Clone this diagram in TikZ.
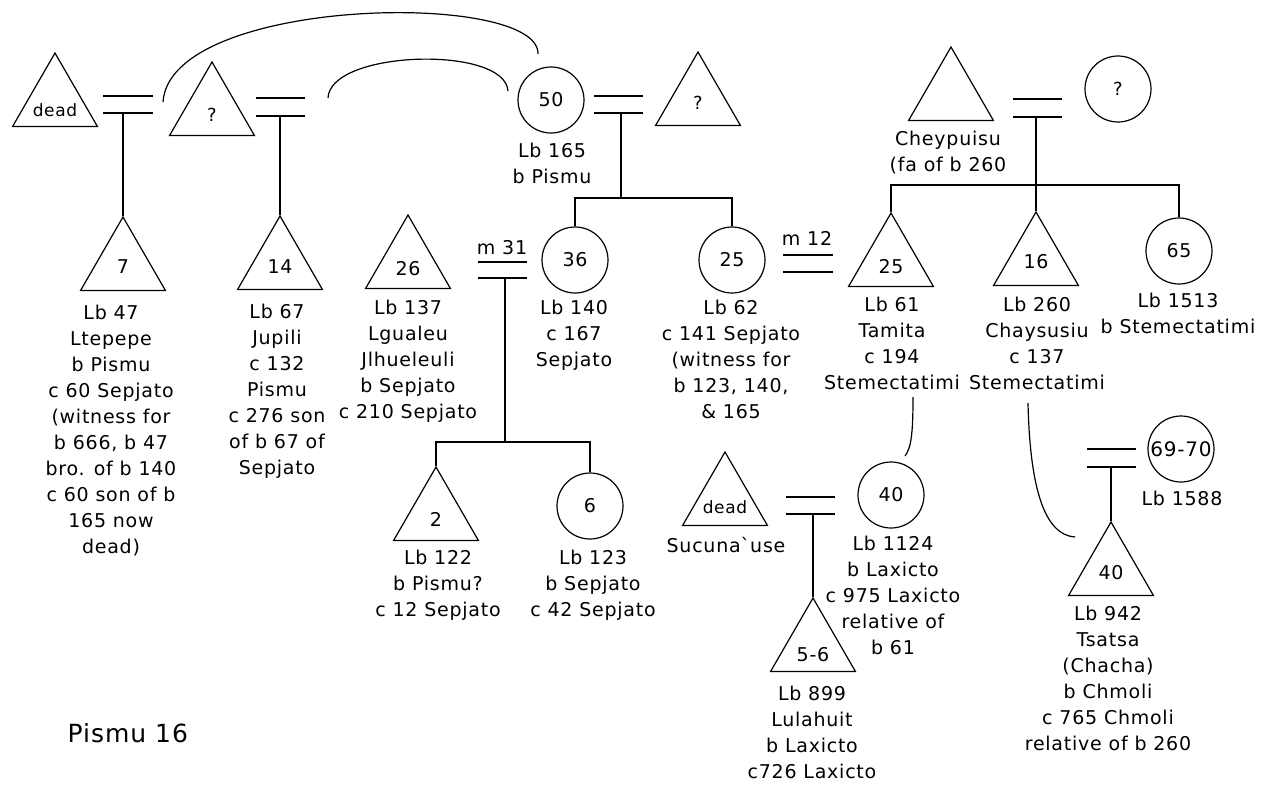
\documentclass[tikz,border=0pt]{standalone}
\usepackage{fontspec}
\setmainfont[LetterSpace=4]{DejaVu Sans}
\usetikzlibrary{shapes.geometric}
\begin{document}
\begin{tikzpicture}[x=1pt,y=-1pt,line width=1.2pt,
  tri/.style={draw, regular polygon, regular polygon sides=3, minimum size=98pt, inner sep=0pt},
  cir/.style={draw, circle, minimum size=66pt, inner sep=0pt},
  numf/.style={font=\fontsize{19}{22}\selectfont},
  smallf/.style={font=\fontsize{17}{20}\selectfont},
  qf/.style={font=\fontsize{18}{20}\selectfont},
  lbl/.style={align=center, inner sep=0pt, anchor=north, font=\fontsize{19}{26}\selectfont},
  mlabel/.style={inner sep=0pt, font=\fontsize{19}{22}\selectfont}]
\fill[white] (0,0) rectangle (1262,785);
\useasboundingbox (0,0) rectangle (1262,785);

% triangles (males)
\node[tri, label={[smallf,yshift=-8pt]center:dead}] (td1) at (55,102) {};
\node[tri, label={[qf,yshift=-4pt]center:?}] (tq1) at (212,111) {};
\node[tri, label={[numf,yshift=-1pt]center:7}] (t7) at (123,266) {};
\node[tri, label={[numf,yshift=-2pt]center:14}] (t14) at (280,265) {};
\node[tri, label={[numf,yshift=-5pt]center:26}] (t26) at (408,264) {};
\node[tri, label={[qf,yshift=-2pt]center:?}] (tq2) at (698,101) {};
\node[tri] (tchey) at (951,96) {};
\node[tri, label={[numf,yshift=-5pt]center:25}] (t25) at (891,262) {};
\node[tri, label={[numf,yshift=-1pt]center:16}] (t16) at (1036,261) {};
\node[tri, label={[numf,yshift=-3pt]center:2}] (t2) at (436,516) {};
\node[tri, label={[smallf,yshift=-6pt]center:dead}] (td2) at (725,501) {};
\node[tri, label={[numf,yshift=-8pt]center:5-6}] (t56) at (813,647) {};
\node[tri, label={[numf,yshift=-2pt]center:40}] (t40) at (1111,571) {};

% circles (females)
\node[cir, numf] (c50) at (551,100) {50};
\node[cir, numf] (c36) at (575,260) {36};
\node[cir, numf] (c25) at (732,260) {25};
\node[cir, qf] (cq) at (1118,89) {?};
\node[cir, numf] (c65) at (1179,251) {65};
\node[cir, numf] (c6) at (590,506) {6};
\node[cir, numf] (c40) at (891,495) {40};
\node[cir, font=\fontsize{20}{22}\selectfont] (c6970) at (1181,449) {69-70};

% text labels
\node[lbl] (l47) at (111,304.5) {Lb 47\\Ltepepe\\b Pismu\\c 60 Sepjato\\(witness for\\b 666, b 47\\bro. of b 140\\c 60 son of b\\165 now\\dead)};
\node[lbl] (l67) at (277,303.5) {Lb 67\\Jupili\\c 132\\Pismu\\c 276 son\\of b 67 of\\Sepjato};
\node[lbl] (l137) at (408,299.5) {Lb 137\\Lgualeu\\Jlhueleuli\\b Sepjato\\c 210 Sepjato};
\node[lbl] (l165) at (552,142.5) {Lb 165\\b Pismu};
\node[lbl] (l140) at (574,299.5) {Lb 140\\c 167\\Sepjato};
\node[lbl] (l62) at (731,299.5) {Lb 62\\c 141 Sepjato\\(witness for\\b 123, 140,\\\& 165};
\node[lbl] (lchey) at (948,130.5) {Cheypuisu\\(fa of b 260};
\node[lbl] (l61) at (892,296.5) {Lb 61\\Tamita\\c 194\\Stemectatimi};
\node[lbl] (l260) at (1037,296.5) {Lb 260\\Chaysusiu\\c 137\\Stemectatimi};
\node[lbl] (l1513) at (1178,292.5) {Lb 1513\\b Stemectatimi};
\node[lbl] (l122) at (438,549.5) {Lb 122\\b Pismu?\\c 12 Sepjato};
\node[lbl] (l123) at (593,549.5) {Lb 123\\b Sepjato\\c 42 Sepjato};
\node[lbl] (lsuc) at (726,536.5) {Sucuna\textasciigrave use};
\node[lbl] (l1124) at (893,535.5) {Lb 1124\\b Laxicto\\c 975 Laxicto\\relative of\\b 61};
\node[lbl] (l899) at (812,685.5) {Lb 899\\Lulahuit\\b Laxicto\\c726 Laxicto};
\node[lbl] (l1588) at (1182,490.5) {Lb 1588};
\node[lbl] (l942) at (1108,605.5) {Lb 942\\Tsatsa\\(Chacha)\\b Chmoli\\c 765 Chmoli\\relative of b 260};
\node[mlabel] (lm31) at (502,248) {m 31};
\node[mlabel] (lm12) at (807,238) {m 12};
\node[anchor=west, inner sep=0pt, font=\fontsize{25}{30}\selectfont] (title) at (67,733) {Pismu 16};

% marriage bars
\draw (103,96) -- (153,96) (103,113) -- (153,113);
\draw (256,98) -- (305,98) (256,116) -- (305,116);
\draw (594,96) -- (643,96) (594,113) -- (643,113);
\draw (478,262) -- (527,262) (478,278) -- (527,278);
\draw (783,255) -- (833,255) (783,272) -- (833,272);
\draw (1013,99) -- (1062,99) (1013,117) -- (1062,117);
\draw (786,497) -- (835,497) (786,514) -- (835,514);
\draw (1087,449) -- (1136,449) (1087,467) -- (1136,467);

% descent points
\coordinate (m1) at (123,113);
\coordinate (m2) at (280,116);
\coordinate (m3) at (621,113);
\coordinate (s3) at (621,198);
\coordinate (m4) at (505,278);
\coordinate (s4) at (505,442);
\coordinate (m6) at (1036,117);
\coordinate (s6) at (1036,185);
\coordinate (m7) at (813,514);
\coordinate (m8) at (1111,467);

\draw (m1) -- (t7.corner 1);
\draw (m2) -- (t14.corner 1);
\draw (m3) -- (s3);
\draw (c36.north) |- (s3) -| (c25.north);
\draw (m4) -- (s4);
\draw (t2.corner 1) |- (s4) -| (c6.north);
\draw (m6) -- (t16.corner 1);
\draw (t25.corner 1) |- (s6) -| (c65.north);
\draw (m7) -- (t56.corner 1);
\draw (m8) -- (t40.corner 1);

% relation arcs
\coordinate (a1s) at (163,102);
\coordinate (a1e) at (538,54);
\coordinate (a2s) at (328,98);
\coordinate (a2e) at (508,91);
\coordinate (a3s) at (913,397);
\coordinate (a3e) at (905,456);
\coordinate (a4s) at (1028,403);
\coordinate (a4e) at (1075,537);
\draw (a1s) .. controls (170,-4) and (540,-10) .. (a1e);
\draw (a2s) .. controls (330,50) and (505,45) .. (a2e);
\draw (a3s) .. controls (913,435) and (911,448) .. (a3e);
\draw (a4s) .. controls (1030,490) and (1045,535) .. (a4e);
\end{tikzpicture}
\end{document}
